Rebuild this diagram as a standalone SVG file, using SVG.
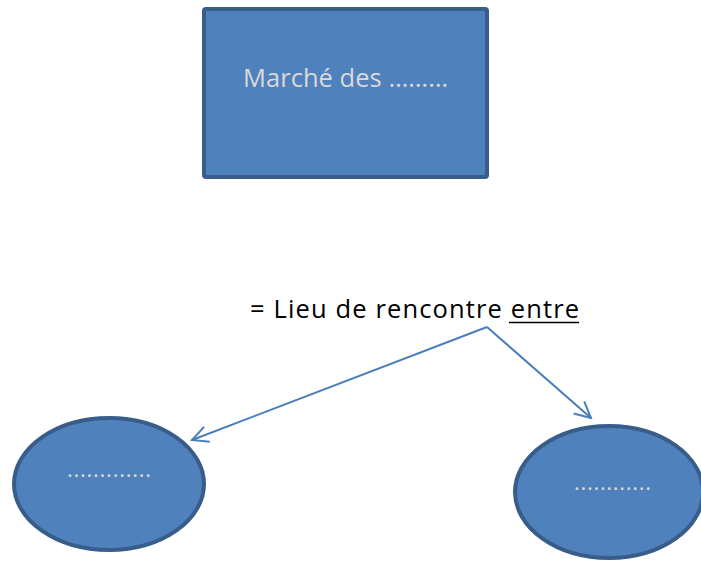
<svg xmlns="http://www.w3.org/2000/svg" width="701" height="562" viewBox="0 0 701 562">
  <style>
    .shape { fill: #4F81BD; stroke: #385D8A; stroke-width: 4; }
    .label { font-family: "Open Sans", "Liberation Sans", sans-serif; fill: #D9D9D9; }
    .caption { font-family: "Open Sans", "Liberation Sans", sans-serif; fill: #000000; font-size: 25.5px; }
    .link { fill: none; stroke: #4A7EBB; stroke-width: 2; }
  </style>
  <defs>
    <marker id="arrow" viewBox="0 0 20 20" refX="18" refY="10" markerWidth="20" markerHeight="20" markerUnits="userSpaceOnUse" orient="auto">
      <path d="M2,2 L18,10 L2,18" fill="none" stroke="#4A7EBB" stroke-width="2"/>
    </marker>
  </defs>
  <rect width="701" height="562" fill="#FFFFFF"/>

  <g id="market">
    <rect class="shape" x="204" y="9" width="283" height="168" rx="2"/>
    <text class="label" x="243" y="87" font-size="25.5" textLength="205" lengthAdjust="spacing">Marché des ………</text>
  </g>

  <g id="definition">
    <text class="caption" x="250" y="318" textLength="329" lengthAdjust="spacing">= Lieu de rencontre entre</text>
    <line x1="509" y1="322.5" x2="579" y2="322.5" stroke="#000000" stroke-width="1.5"/>
  </g>

  <g id="party-left">
    <ellipse class="shape" cx="109" cy="484" rx="95" ry="66"/>
    <text class="label" x="67" y="477" font-size="22" textLength="84" lengthAdjust="spacing">.............</text>
  </g>

  <g id="party-right">
    <ellipse class="shape" cx="609" cy="492" rx="94" ry="66"/>
    <text class="label" x="574" y="490" font-size="22" textLength="77" lengthAdjust="spacing">............</text>
  </g>

  <g id="connectors">
    <line class="link" x1="487" y1="327" x2="192" y2="440" marker-end="url(#arrow)"/>
    <line class="link" x1="487" y1="327" x2="591" y2="418" marker-end="url(#arrow)"/>
  </g>
</svg>
